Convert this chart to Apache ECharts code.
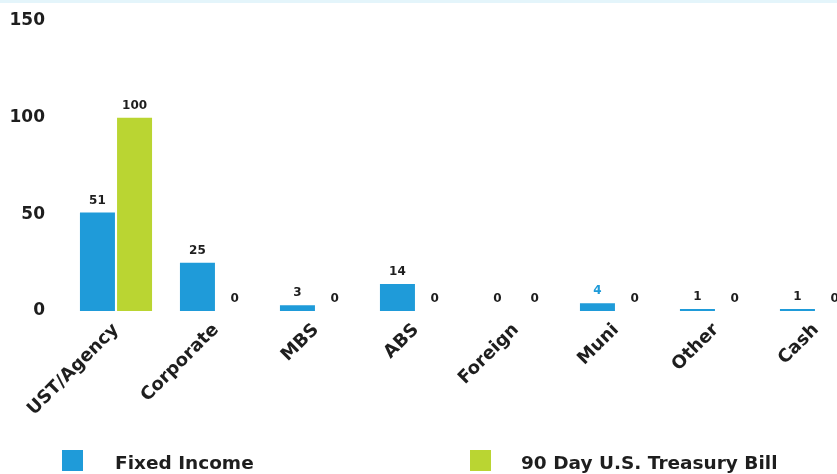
<!DOCTYPE html>
<html>
<head>
<meta charset="utf-8">
<style>
  html, body { margin: 0; padding: 0; background: #ffffff; }
  #chart { width: 837px; height: 474px; }
</style>
<script src="https://cdn.jsdelivr.net/npm/echarts@6/dist/echarts.min.js"></script>
</head>
<body>
<div id="chart"></div>
<script>
// Sector allocation: fixed income portfolio vs. 90-day T-bill benchmark
const categories = ['UST/Agency', 'Corporate', 'MBS', 'ABS', 'Foreign', 'Muni', 'Other', 'Cash'];
const fixedIncome = [51, 25, 3, 14, 0, 4, 1, 1];
const treasuryBill = [100, 0, 0, 0, 0, 0, 0, 0];
const yTicks = [0, 50, 100, 150];

const BLUE = '#1f9bd9';
const GREEN = '#bad532';
const TEXT = '#1e1e1e';
const FONT = '"DejaVu Sans", sans-serif';

const chart = echarts.init(document.getElementById('chart'), null, { renderer: 'canvas' });

const valueLabel = {
  show: true,
  position: 'top',
  distance: 6,
  color: TEXT,
  fontFamily: FONT,
  fontWeight: 'bold',
  fontSize: 12
};

// Legend text sits slightly below the centre of its swatch
function legendText(leftGap) {
  return {
    color: TEXT, fontFamily: FONT, fontWeight: 'bold', fontSize: 18.5,
    rich: {
      t: {
        color: TEXT, fontFamily: FONT, fontWeight: 'bold', fontSize: 18.5,
        padding: [8, 0, 0, leftGap]
      }
    }
  };
}

chart.setOption({
  animation: false,
  backgroundColor: '#ffffff',
  graphic: [{
    type: 'rect',
    left: 0, top: 0,
    shape: { width: 837, height: 3 },
    style: { fill: '#e4f5fb' }
  }],
  grid: { left: 66, right: -29, top: 21, bottom: 163, outerBoundsMode: 'none', containLabel: false },
  xAxis: {
    type: 'category',
    data: categories,
    axisLine: { show: false },
    axisTick: { show: false },
    axisLabel: {
      rotate: 45,
      margin: 16,
      interval: 0,
      color: TEXT,
      fontFamily: FONT,
      fontWeight: 'bold',
      fontSize: 18
    }
  },
  yAxis: {
    type: 'value',
    min: yTicks[0],
    max: yTicks[yTicks.length - 1],
    interval: yTicks[1] - yTicks[0],
    axisLine: { show: false },
    axisTick: { show: false },
    splitLine: { show: false },
    axisLabel: {
      margin: 21,
      color: TEXT,
      fontFamily: FONT,
      fontWeight: 'bold',
      fontSize: 17
    }
  },
  legend: [
    {
      data: ['Fixed Income'],
      left: 62, top: 450, padding: 0,
      icon: 'rect', itemWidth: 21, itemHeight: 21,
      formatter: '{t|{name}}',
      textStyle: legendText(27)
    },
    {
      data: ['90 Day U.S. Treasury Bill'],
      left: 470, top: 450, padding: 0,
      icon: 'rect', itemWidth: 21, itemHeight: 21,
      formatter: '{t|{name}}',
      textStyle: legendText(25)
    }
  ],
  series: [
    {
      name: 'Fixed Income',
      type: 'bar',
      barWidth: 35,
      barGap: '6%',
      itemStyle: { color: BLUE },
      label: valueLabel,
      data: fixedIncome.map((v, i) => categories[i] === 'Muni'
        ? { value: v, label: { color: BLUE } }
        : v)
    },
    {
      name: '90 Day U.S. Treasury Bill',
      type: 'bar',
      barWidth: 35,
      itemStyle: { color: GREEN },
      label: valueLabel,
      data: treasuryBill
    }
  ]
});
</script>
</body>
</html>
